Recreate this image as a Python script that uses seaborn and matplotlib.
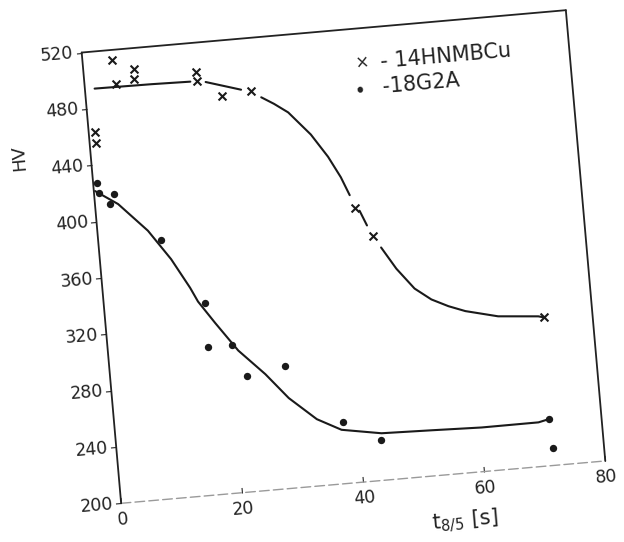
import numpy as np
import pandas as pd
import matplotlib
matplotlib.use("Agg")
import matplotlib.pyplot as plt
import seaborn as sns
from matplotlib.transforms import Affine2D
import mpl_toolkits.axisartist.floating_axes as floating_axes
from mpl_toolkits.axisartist.grid_finder import FixedLocator, DictFormatter

# ---------------- data ----------------
x_ticks = [0, 20, 40, 60, 80]
hv_ticks = [200, 240, 280, 320, 360, 400, 440, 480, 520]

# 14HNMBCu (crosses)
t_14 = [1.05, 1.07, 4.85, 5.1, 8.14, 8.3, 18.4, 18.57, 22.4, 27.2, 42.6, 45.1, 72.0]
hv_14 = [455.1, 463.1, 513.0, 495.8, 498.5, 505.1, 499.5, 492.6, 480.9, 482.4, 393.9, 372.8, 304.9]

# 18G2A (dots)
t_18 = [0.6, 0.8, 3.3, 2.5, 10.3, 16.7, 16.4, 20.4, 22.4, 28.8, 37.6, 43.5, 71.3, 71.6]
hv_18 = [427.0, 419.9, 418.3, 411.5, 382.9, 336.2, 304.5, 304.5, 281.8, 286.7, 243.3, 228.9, 232.9, 212.2]

# fitted curve for 14HNMBCu (drawn with breaks at the markers)
curve14_t = [1.6, 11.0, 17.4,
             19.9, 25.6,
             28.8, 30.8, 33.0, 36.4, 38.9, 40.7, 41.9,
             43.3, 44.3,
             46.3, 48.5, 51.2, 53.8, 56.5, 59.2, 64.5, 71.1, 72.0]
curve14_hv = [493.8, 493.4, 492.8,
              491.6, 484.0,
              477.4, 472.0, 465.1, 448.1, 431.4, 416.2, 403.0,
              391.4, 380.6,
              364.2, 348.3, 333.2, 324.5, 318.7, 314.2, 308.5, 306.0, 304.9]
curve14_seg = [0, 0, 0,
               1, 1,
               2, 2, 2, 2, 2, 2, 2,
               3, 3,
               4, 4, 4, 4, 4, 4, 4, 4, 4]

# fitted curve for 18G2A
curve18_t = [0.2, 3.8, 8.3, 11.7, 14.4, 15.5, 18.0, 21.4, 25.5, 29.0, 33.3,
             37.2, 43.7, 52.0, 60.2, 69.6, 71.3]
curve18_hv = [421.6, 411.0, 390.4, 368.9, 347.6, 337.4, 321.3, 300.4, 282.1, 263.8, 247.2,
              238.2, 233.3, 232.3, 231.2, 231.3, 232.9]

# ---------------- figure ----------------
sns.set_style("white")
plt.rcParams['font.family'] = ['DejaVu Sans']

W, H = 624, 542
fig = plt.figure(figsize=(W / 100, H / 100), dpi=100)

SX, SY, ANG = 6.075, 1.414, 5.0          # px per unit, rotation of the scan
tr = Affine2D().scale(SX, SY).rotate_deg(ANG)

grid_helper = floating_axes.GridHelperCurveLinear(
    tr, extremes=(x_ticks[0], x_ticks[-1], hv_ticks[0], hv_ticks[-1]),
    grid_locator1=FixedLocator(x_ticks),
    tick_formatter1=DictFormatter({v: str(v) for v in x_ticks}),
    grid_locator2=FixedLocator(hv_ticks),
    tick_formatter2=DictFormatter({v: str(v) for v in hv_ticks}))

corners = tr.transform([[x_ticks[0], hv_ticks[0]], [x_ticks[-1], hv_ticks[0]],
                        [x_ticks[0], hv_ticks[-1]], [x_ticks[-1], hv_ticks[-1]]])
bw = corners[:, 0].max() - corners[:, 0].min()
bh = corners[:, 1].max() - corners[:, 1].min()
# FloatingAxes expands its limits by 2 %, so enlarge the box accordingly
left_px = 81.7 - 0.01 * bw
bottom_px = (H - 503.3) - 0.01 * bh
ax = floating_axes.FloatingAxes(fig, [left_px / W, bottom_px / H, 1.02 * bw / W, 1.02 * bh / H],
                                grid_helper=grid_helper)
fig.add_axes(ax)

aux = ax.get_aux_axes(tr)
aux.patch = ax.patch
ax.patch.zorder = 0.9

df14 = pd.DataFrame({"t": t_14, "HV": hv_14})
df18 = pd.DataFrame({"t": t_18, "HV": hv_18})
c14 = pd.DataFrame({"t": curve14_t, "HV": curve14_hv, "seg": curve14_seg})
c18 = pd.DataFrame({"t": curve18_t, "HV": curve18_hv, "seg": 0})

sns.lineplot(data=c14, x="t", y="HV", units="seg", estimator=None, sort=False,
             color="#1a1a1a", linewidth=1.5, ax=aux, legend=False,
             solid_joinstyle="round", solid_capstyle="round")
sns.lineplot(data=c18, x="t", y="HV", units="seg", estimator=None, sort=False,
             color="#1a1a1a", linewidth=1.5, ax=aux, legend=False,
             solid_joinstyle="round", solid_capstyle="round")
sns.scatterplot(data=df14, x="t", y="HV", marker="x", s=32, color="#1a1a1a",
                linewidth=1.5, ax=aux, legend=False, zorder=3)
sns.scatterplot(data=df18, x="t", y="HV", marker="o", s=28, color="#1a1a1a",
                edgecolor="#1a1a1a", linewidth=0, ax=aux, legend=False, zorder=3)
aux.set_xlabel("")
aux.set_ylabel("")

# axes styling
for k in ["left", "top", "right"]:
    ax.axis[k].line.set_linewidth(1.3)
    ax.axis[k].line.set_color("#222222")
ax.axis["bottom"].line.set_linewidth(1.0)
ax.axis["bottom"].line.set_color("#9a9a9a")
ax.axis["bottom"].line.set_linestyle((0, (7, 3)))
ax.axis["top"].toggle(ticks=False, ticklabels=False)
ax.axis["right"].toggle(ticks=False, ticklabels=False)
ax.axis["left"].major_ticks.set_tick_out(True)
ax.axis["left"].major_ticks.set_ticksize(4)
ax.axis["left"].major_ticks.set_linewidth(1.0)
ax.axis["bottom"].major_ticks.set_ticksize(4)
ax.axis["bottom"].major_ticks.set_linewidth(1.0)
for k in ["left", "bottom"]:
    ax.axis[k].major_ticklabels.set_fontsize(12.5)
    ax.axis[k].major_ticklabels.set_color("#222222")
ax.axis["left"].major_ticklabels.set_pad(2)
ax.axis["bottom"].major_ticklabels.set_pad(6)

# axis titles
fig.text(19 / W, 1 - 158 / H, "HV", rotation=95, ha="center", va="center",
         fontsize=13, color="#222222")
fig.text(465 / W, 1 - 521 / H, r"$\mathregular{t_{8/5}}$ [s]", rotation=5,
         ha="center", va="center", fontsize=15, color="#222222")

# legend (glyph + label)
fig.text(362 / W, 1 - 63 / H, "×", rotation=5, ha="center", va="center",
         fontsize=12, color="#222222")
fig.text(380 / W, 1 - 62 / H, "- 14HNMBCu", rotation=5, ha="left", va="center",
         fontsize=15, color="#222222", rotation_mode="anchor")
fig.text(360 / W, 1 - 91 / H, "•", rotation=5, ha="center", va="center",
         fontsize=14, color="#222222")
fig.text(382 / W, 1 - 87 / H, "-18G2A", rotation=5, ha="left", va="center",
         fontsize=15, color="#222222", rotation_mode="anchor")

fig.savefig("out.png", dpi=100)
